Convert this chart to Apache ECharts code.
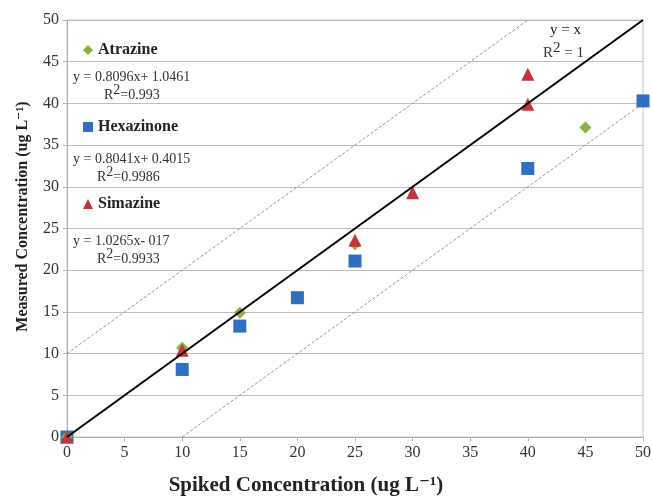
<!DOCTYPE html>
<html>
<head>
<meta charset="utf-8">
<script src="https://cdn.jsdelivr.net/npm/echarts@6/dist/echarts.min.js"></script>
<style>
  html, body { margin: 0; padding: 0; background: #fff; }
  #chart { width: 652px; height: 497px; }
</style>
</head>
<body>
<div id="chart"></div>
<script>
// measured vs spiked
var atrazine = [[0, 0], [10, 10.7], [15, 14.9], [25, 23.1], [45, 37.1]];
var hexazinone = [[0, 0], [10, 8.1], [15, 13.3], [20, 16.7], [25, 21.1], [40, 32.2], [50, 40.3]];
var simazine = [[0, 0], [10, 10.4], [25, 23.6], [30, 29.3], [40, 39.9], [40, 43.5]];

// reference lines
var identityLine = [[0, 0], [50, 50]];
var upperBand = [[0, 10], [40, 50]];
var lowerBand = [[10, 0], [50, 40]];

var equations = [
    { eq: 'y = 0.8096x+ 1.0461', r2: '0.993', y: 77, rx: 104 },
    { eq: 'y = 0.8041x+ 0.4015', r2: '0.9986', y: 159, rx: 97 },
    { eq: 'y = 1.0265x- 017', r2: '0.9933', y: 241, rx: 97 }
];

var serif = '"Liberation Serif", "DejaVu Serif", serif';

function r2Text(x, y, val, size, sep) {
    return {
        type: 'text', x: x, y: y,
        style: {
            text: '{b|R}{s|2}{b|' + sep + val + '}',
            verticalAlign: 'middle',
            rich: {
                b: { fontFamily: serif, fontSize: size, fill: '#333' },
                s: { fontFamily: serif, fontSize: size, fill: '#333', padding: [0, 0, 9, 0] }
            }
        }
    };
}

var graphics = [];
equations.forEach(function (e) {
    graphics.push({
        type: 'text', x: 73, y: e.y,
        style: { text: e.eq, font: '14px ' + serif, fill: '#333', verticalAlign: 'middle' }
    });
    graphics.push(r2Text(e.rx, e.y + 18, e.r2, 14, '='));
});
graphics.push({
    type: 'text', x: 550, y: 30,
    style: { text: 'y = x', font: '15px ' + serif, fill: '#222', verticalAlign: 'middle' }
});
graphics.push(r2Text(543, 53, '1', 15, ' = '));

var chart = echarts.init(document.getElementById('chart'));
chart.setOption({
    animation: false,
    backgroundColor: '#fff',
    grid: {
        left: 67, right: 9, top: 20, bottom: 60,
        outerBoundsMode: 'none',
        show: true, borderColor: '#c4c4c4', borderWidth: 1
    },
    legend: {
        orient: 'vertical',
        left: 83, top: 42,
        padding: 0,
        itemWidth: 10, itemHeight: 10,
        itemGap: 61,
        selectedMode: false,
        textStyle: { fontFamily: serif, fontWeight: 'bold', fontSize: 16, color: '#222' },
        data: [
            { name: 'Atrazine', icon: 'diamond' },
            { name: 'Hexazinone', icon: 'rect' },
            { name: 'Simazine', icon: 'triangle' }
        ]
    },
    xAxis: {
        type: 'value', min: 0, max: 50, interval: 5,
        name: 'Spiked Concentration (ug L⁻¹)',
        nameLocation: 'middle', nameGap: 38,
        nameTextStyle: { fontFamily: serif, fontWeight: 'bold', fontSize: 21, color: '#222', padding: [0, 98, 0, 0] },
        axisLine: { lineStyle: { color: '#b0b0b0' } },
        axisTick: { show: true, length: 4, lineStyle: { color: '#b0b0b0' } },
        axisLabel: { fontFamily: serif, fontSize: 16, color: '#333', margin: 8 },
        splitLine: { show: false }
    },
    yAxis: {
        type: 'value', min: 0, max: 50, interval: 5,
        name: 'Measured Concentration (ug L⁻¹)',
        nameLocation: 'middle', nameGap: 36,
        nameTextStyle: { fontFamily: serif, fontWeight: 'bold', fontSize: 16, color: '#222', padding: [0, 0, 0, 24] },
        axisLine: { show: true, lineStyle: { color: '#b0b0b0' } },
        axisTick: { show: true, length: 4, lineStyle: { color: '#b0b0b0' } },
        axisLabel: { fontFamily: serif, fontSize: 16, color: '#333', margin: 8 },
        splitLine: { lineStyle: { color: '#bdbdbd', width: 1 } }
    },
    graphic: graphics,
    series: [
        {
            name: 'upper', type: 'line', data: upperBand, symbol: 'none', silent: true,
            lineStyle: { color: '#777', width: 0.8, type: [3, 2] }
        },
        {
            name: 'lower', type: 'line', data: lowerBand, symbol: 'none', silent: true,
            lineStyle: { color: '#777', width: 0.8, type: [3, 2] }
        },
        {
            name: 'Hexazinone', type: 'scatter', data: hexazinone,
            symbol: 'rect', symbolSize: 13,
            itemStyle: { color: '#2f6ec0', opacity: 1 }
        },
        {
            name: 'Atrazine', type: 'scatter', data: atrazine,
            symbol: 'diamond', symbolSize: 12,
            itemStyle: { color: '#8db03f', opacity: 1 }
        },
        {
            name: 'Simazine', type: 'scatter', data: simazine,
            symbol: 'triangle', symbolSize: 13,
            itemStyle: { color: '#c3343b', opacity: 1 }
        },
        {
            name: 'y = x', type: 'line', data: identityLine, symbol: 'none', silent: true,
            lineStyle: { color: '#000', width: 2 }
        }
    ]
});
</script>
</body>
</html>
